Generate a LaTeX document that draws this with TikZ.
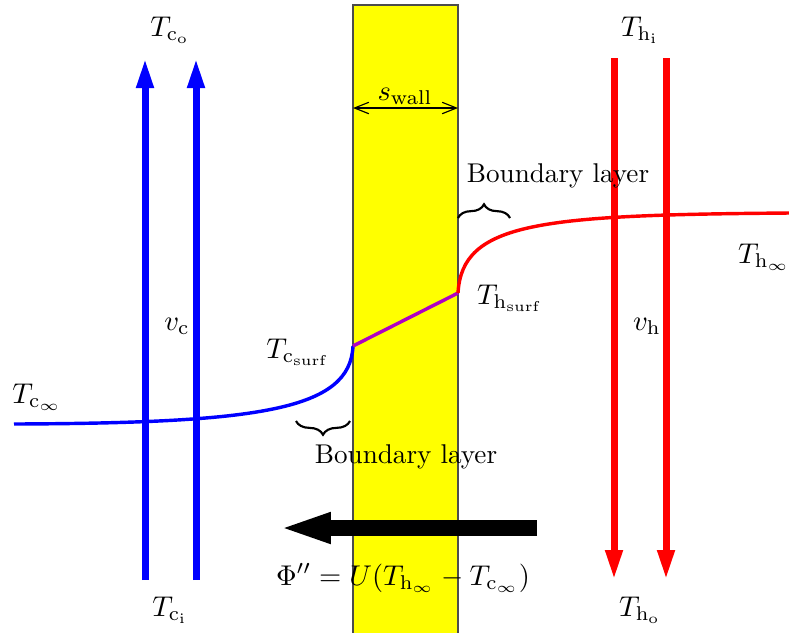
\documentclass[tikz,border=0pt]{standalone}
\usetikzlibrary{arrows.meta,decorations.pathreplacing}
\definecolor{wallyellow}{RGB}{255,255,0}
\definecolor{coldblue}{RGB}{0,0,255}
\definecolor{hotred}{RGB}{255,0,0}
\definecolor{wallpurple}{RGB}{175,0,195}
\tikzset{
  coldflow/.style={coldblue,line width=2.45pt,-{Triangle[width=5.6pt,length=10.5pt]}},
  hotflow/.style={hotred,line width=2.45pt,-{Triangle[width=5.6pt,length=10.5pt]}},
  lbl/.style={inner sep=0pt},
  bltext/.style={inner sep=0pt,font=\fontsize{9.5}{11}\selectfont},
  bl/.style={decorate,decoration={brace,amplitude=4.8pt},line width=0.75pt},
}
\begin{document}
\begin{tikzpicture}[x=0.35pt,y=-0.35pt]
\useasboundingbox (0,0) rectangle (789,632);
% wall
\fill[wallyellow] (353,5) rectangle (458,640);
\draw[black!70,line width=0.4pt] (353,640) -- (353,5) -- (458,5) -- (458,640);
% wall thickness
\coordinate (wl) at (353,108);
\coordinate (wr) at (458,108);
\draw[{Straight Barb[length=5pt,width=4pt]}-{Straight Barb[length=5pt,width=4pt]},line width=0.4pt] (wl) -- (wr);
\node[lbl] (swall) at (405,96) {$s_\mathrm{wall}$};
% cold side arrows
\coordinate (c1s) at (145,580); \coordinate (c1e) at (145,58);
\coordinate (c2s) at (196,580); \coordinate (c2e) at (196,58);
\draw[coldflow] (c1s) -- (c1e);
\draw[coldflow] (c2s) -- (c2e);
% hot side arrows
\coordinate (h1s) at (614,58); \coordinate (h1e) at (614,580);
\coordinate (h2s) at (666,58); \coordinate (h2e) at (666,580);
\draw[hotflow] (h1s) -- (h1e);
\draw[hotflow] (h2s) -- (h2e);
% labels
\node[lbl] (tco) at (170,30) {$T_{\mathrm{c}_\mathrm{o}}$};
\node[lbl] (thi) at (640,30) {$T_{\mathrm{h}_\mathrm{i}}$};
\node[lbl] (tci) at (170,610) {$T_{\mathrm{c}_\mathrm{i}}$};
\node[lbl] (tho) at (640,610) {$T_{\mathrm{h}_\mathrm{o}}$};
\node[lbl] (vc) at (177,326) {$v_\mathrm{c}$};
\node[lbl] (vh) at (647,326) {$v_\mathrm{h}$};
% temperature profile
\coordinate (cinf) at (14,424);
\coordinate (csurf) at (353,346);
\coordinate (hsurf) at (458,293);
\coordinate (hinf) at (789,213);
\draw[coldblue,line width=1.2pt] (cinf) .. controls (260,423) and (350,410) .. (csurf);
\draw[wallpurple,line width=1.2pt] (csurf) -- (hsurf);
\draw[hotred,line width=1.2pt] (hsurf) .. controls (462,222) and (540,215) .. (hinf);
\node[lbl] (tcsurf) at (298,352) {$T_{\mathrm{c}_\mathrm{surf}}$};
\node[lbl] (thsurf) at (510,298) {$T_{\mathrm{h}_\mathrm{surf}}$};
\node[lbl] (tcinf) at (37,397) {$T_{\mathrm{c}_\infty}$};
\node[lbl] (thinf) at (764,257) {$T_{\mathrm{h}_\infty}$};
% boundary layers
\coordinate (b1a) at (458,218); \coordinate (b1b) at (510,218);
\draw[bl] (b1a) -- (b1b);
\node[bltext] (bl1) at (558,176) {Boundary layer};
\coordinate (b2a) at (350,421); \coordinate (b2b) at (296,421);
\draw[bl] (b2a) -- (b2b);
\node[bltext] (bl2) at (406,457) {Boundary layer};
% heat flux
\coordinate (fs) at (537,528); \coordinate (fe) at (278,528);
\draw[line width=5.3pt,-{Triangle[width=9.6pt,length=18.5pt]}] (fs) -- (fe);
\node[lbl] (flux) at (403,578) {$\Phi'' = U(T_{\mathrm{h}_\infty} - T_{\mathrm{c}_\infty})$};
\end{tikzpicture}
\end{document}
